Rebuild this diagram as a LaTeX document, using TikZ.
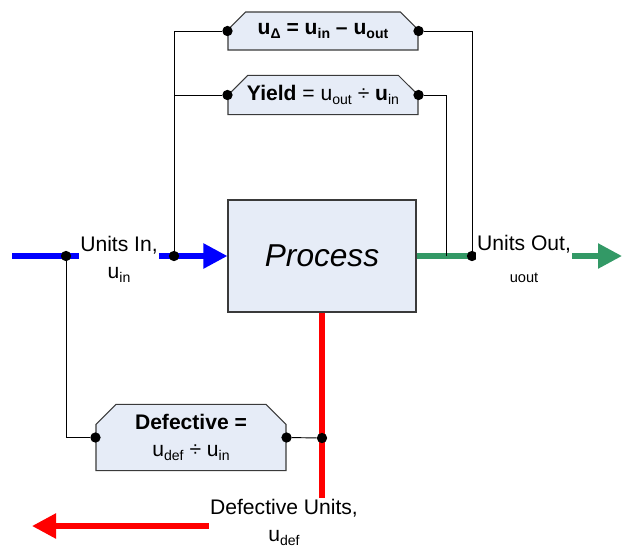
\documentclass[tikz,border=0pt]{standalone}
\usepackage{fontspec}
\setmainfont{Liberation Sans}
\usepackage{tikz}
\usetikzlibrary{shapes.misc, arrows.meta}
\definecolor{boxfill}{HTML}{E6ECF7}
\definecolor{boxline}{HTML}{3A3A3A}
\definecolor{flowblue}{HTML}{0000FF}
\definecolor{flowgreen}{HTML}{339966}
\definecolor{flowred}{HTML}{FF0000}
% small lowered index, e.g. u\sbs{in}
\newcommand{\sbs}[1]{\raisebox{-0.35ex}{\fontsize{12}{12}\selectfont #1}}

\tikzset{
	calcbox/.style={draw=boxline, fill=boxfill, line width=0.9pt,
		chamfered rectangle, chamfered rectangle corners={north west,north east},
		chamfered rectangle xsep=0.3cm, chamfered rectangle ysep=0.3cm,
		minimum width=5.7cm, minimum height=1.14cm, inner sep=0pt, align=center},
	procbox/.style={draw=boxline, fill=boxfill, line width=1pt,
		minimum width=5.64cm, minimum height=3.36cm, font=\fontsize{27}{30}\selectfont\itshape},
	dot/.style={circle, fill=black, inner sep=0pt, minimum size=0.31cm},
	wire/.style={line width=0.8pt, black},
	flow/.style={line width=4.6pt, -{Triangle[length=0.72cm, width=0.72cm]}},
	flowlabel/.style={fill=white, inner sep=1pt, align=center}
}

\begin{document}
\begin{tikzpicture}[x=0.03cm, y=-0.03cm, font=\fontsize{18}{23}\selectfont]
	\useasboundingbox (0,0) rectangle (622,549);

	% process and the three measures
	\node[procbox] (proc) at (322,256) {Process};
	\node[calcbox] (delta) at (323,31) {\textbf{u\sbs{Δ} = u\sbs{in} – u\sbs{out}}};
	\node[calcbox] (yield) at (323,95) {\textbf{Yield} = u\sbs{out} ÷ \textbf{u}\sbs{in}};
	\node[calcbox, minimum height=1.71cm] (defect) at (191,437.5) {\textbf{Defective =}\\u\sbs{def} ÷ u\sbs{in}};

	% flows
	\coordinate (inStart) at (12,256);
	\coordinate (outEnd) at (622,256);
	\coordinate (defEnd) at (32,526);
	\draw[flow, flowblue] (inStart) -- (proc.west);
	\draw[flow, flowgreen] (proc.east) -- (outEnd);
	\draw[flow, flowred] (proc.south) |- (defEnd);

	% taps on the flows
	\node[dot] (inSplit) at (66,256) {};
	\node[dot] (inTap) at (174,256) {};
	\node[dot] (outTap) at (472,256) {};
	\coordinate (outJoin) at (446,256);
	\node[dot] (defTap) at (322,438) {};

	\node[dot] (deltaIn) at (delta.west) {};
	\node[dot] (deltaOut) at (delta.east) {};
	\node[dot] (yieldIn) at (yield.west) {};
	\node[dot] (yieldOut) at (yield.east) {};
	\node[dot] (defectIn) at (defect.west) {};
	\node[dot] (defectOut) at (defect.east) {};

	\draw[wire] (inTap) |- (deltaIn);
	\draw[wire] (inTap) |- (yieldIn);
	\draw[wire] (outTap) |- (deltaOut);
	\draw[wire] (outJoin) |- (yieldOut);
	\draw[wire] (inSplit) |- (defectIn);
	\draw[wire] (defectOut) -- (defTap);

	% flow labels
	\node[flowlabel] (inLabel) at (119,259) {Units In,\\u\sbs{in}};
	\node[flowlabel] (outLabel) at (524,259) {Units Out,\\[4pt]{\fontsize{12.5}{12.5}\selectfont uout}};
	\node[flowlabel] (defLabel) at (284,522) {Defective Units,\\u\sbs{def}};
\end{tikzpicture}
\end{document}
